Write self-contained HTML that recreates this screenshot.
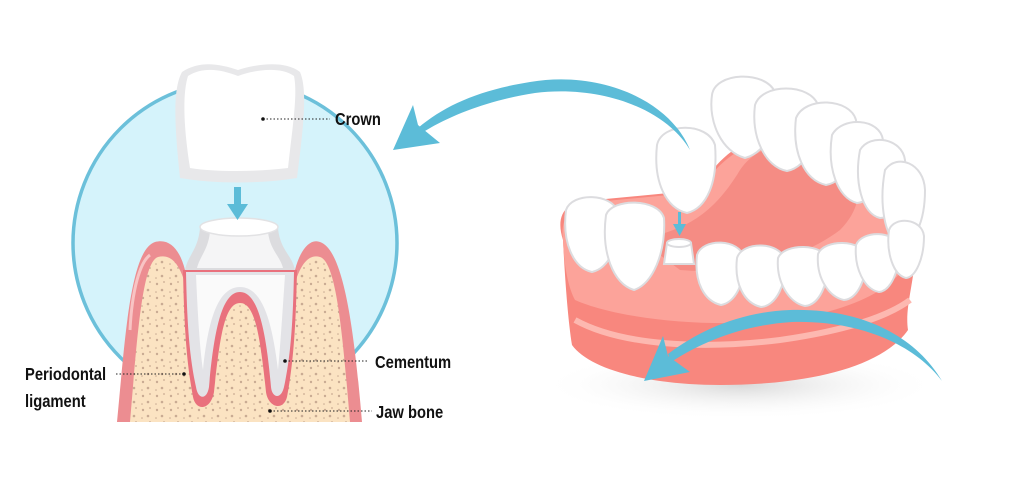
<!DOCTYPE html>
<html><head><meta charset="utf-8"><style>
html,body{margin:0;padding:0;background:#fff;}
svg{display:block}
text{font-family:"Liberation Sans",sans-serif;font-weight:bold;fill:#111;}
</style></head><body>
<svg width="1024" height="477" viewBox="0 0 1024 477" xmlns="http://www.w3.org/2000/svg">
<defs>
<radialGradient id="sh" cx="0.5" cy="0.5" r="0.5"><stop offset="0" stop-color="#d8d8d8"/><stop offset="1" stop-color="#fff" stop-opacity="0"/></radialGradient>
<pattern id="dots" width="14" height="14" patternUnits="userSpaceOnUse">
<rect width="14" height="14" fill="#fbe3c2"/>
<circle cx="3" cy="4" r="1.2" fill="#c9ab93"/><circle cx="10" cy="2" r="0.9" fill="#c9ab93"/><circle cx="8" cy="10" r="1.3" fill="#c9ab93"/><circle cx="2" cy="12" r="0.8" fill="#c9ab93"/>
</pattern>
</defs>
<circle cx="235" cy="243" r="162" fill="#d5f3fb" stroke="#6cc0da" stroke-width="3.5"/>
<path d="M117,422 C125,340 130,250 155,242 C170,238 180,250 185,270 L295,270 C300,250 310,238 320,242 C345,250 355,340 362,422 Z" fill="#ec8d91"/>
<path d="M130,422 C137,340 142,262 158,257 C170,254 178,262 184,280 L296,280 C302,262 310,254 320,257 C337,262 343,340 350,422 Z" fill="url(#dots)"/>
<path d="M130,330 C132,290 140,262 150,255" stroke="#f8c4c4" stroke-width="3" fill="none"/>
<path d="M183,270 L297,270 C296,320 294,360 287,397 C283,412 268,407 266,392 C260,335 255,303 240,303 C225,303 220,335 214,392 C211,410 196,412 193,397 C186,360 184,320 183,270 Z" fill="#e9717d"/>
<path d="M186,272 L294,272 C293,320 291,355 284,387 C281,400 272,398 271,387 C266,330 258,292 240,292 C222,292 214,330 209,387 C207,400 198,400 196,387 C189,355 187,320 186,272 Z" fill="#e3e3e7"/>
<path d="M196,275 L285,275 C282,320 280,350 278,370 C272,320 262,287 240,287 C218,287 208,320 203,370 C200,350 198,320 196,275 Z" fill="#fafafa"/>
<path d="M200,228 L278,228 C280,250 292,255 295,270 L185,270 C188,255 198,250 200,228 Z" fill="#dcdcdf"/>
<path d="M210,232 L268,232 C270,250 280,256 283,268 L197,268 C200,256 208,250 210,232 Z" fill="#f5f5f6"/>
<ellipse cx="239" cy="227" rx="39" ry="9" fill="#fff" stroke="#e2e2e4" stroke-width="1.5"/>
<rect x="234" y="187" width="7" height="20" fill="#5cbcd8"/>
<path d="M227,204 L248,204 L237.5,220 Z" fill="#5cbcd8"/>
<path d="M182,72 C200,60 220,64 238,70 C256,64 285,60 300,72 C308,90 303,130 297,178 C260,184 215,184 180,178 C175,130 172,90 182,72 Z" fill="#e8e8ea"/>
<path d="M188,76 C204,66 222,70 238,76 C254,70 280,66 294,76 C298,95 292,130 288,168 C255,172 215,172 190,168 C184,130 182,95 188,76 Z" fill="#fff"/>
<g stroke="#222" stroke-width="1" stroke-dasharray="1.5,2" fill="none">
<line x1="263" y1="119" x2="330" y2="119"/>
<line x1="285" y1="361" x2="368" y2="361"/>
<line x1="116" y1="374" x2="184" y2="374"/>
<line x1="270" y1="411" x2="372" y2="411"/>
</g>
<g fill="#111"><circle cx="263" cy="119" r="1.8"/><circle cx="285" cy="361" r="1.8"/><circle cx="184" cy="374" r="1.8"/><circle cx="270" cy="411" r="1.8"/></g>
<text x="335" y="125" font-size="18" transform="translate(335,0) scale(0.82,1) translate(-335,0)">Crown</text>
<text x="375" y="368" font-size="18" transform="translate(375,0) scale(0.82,1) translate(-375,0)">Cementum</text>
<text x="25" y="380" font-size="18" transform="translate(25,0) scale(0.82,1) translate(-25,0)">Periodontal</text>
<text x="25" y="407" font-size="18" transform="translate(25,0) scale(0.82,1) translate(-25,0)">ligament</text>
<text x="376" y="418" font-size="18" transform="translate(376,0) scale(0.82,1) translate(-376,0)">Jaw bone</text>

<ellipse cx="740" cy="385" rx="200" ry="35" fill="url(#sh)"/>
<path d="M563,240 C555,215 565,200 595,200 L700,190 C720,150 760,120 850,130 C900,140 925,190 915,260 C912,290 905,310 908,330 C880,370 800,385 720,385 C650,385 590,370 572,345 C568,320 565,280 563,240 Z" fill="#f8877e"/>
<path d="M563,240 C560,218 570,205 595,202 L700,192 C720,155 760,125 850,133 C895,143 918,190 912,250 C905,280 870,305 800,318 C720,330 620,320 575,300 C567,285 564,262 563,240 Z" fill="#fca39a"/>
<path d="M640,240 C680,230 710,220 740,170 C760,140 800,140 830,150 C860,165 870,200 840,230 C800,260 740,275 680,270 Z" fill="#f58c84"/>
<path d="M575,320 C620,345 700,350 780,340 C850,330 890,315 910,300" stroke="#fdb8b0" stroke-width="6" fill="none"/>
<g fill="#fff" stroke="#dcdcdf" stroke-width="2">
<path d="M712,95 C715,72 765,70 775,92 C780,122 768,152 745,158 C722,152 708,122 712,95 Z"/>
<path d="M755,105 C762,83 810,83 818,105 C822,137 808,167 787,171 C765,167 751,137 755,105 Z"/>
<path d="M796,118 C805,96 850,98 856,120 C859,152 846,182 826,185 C804,180 792,152 796,118 Z"/>
<path d="M832,135 C842,116 880,118 883,140 C886,172 874,202 857,203 C837,198 827,167 832,135 Z"/>
<path d="M860,150 C870,133 902,138 905,160 C907,192 896,218 880,218 C862,214 854,182 860,150 Z"/>
<path d="M885,170 C897,153 924,163 925,190 C925,222 914,245 900,245 C884,240 879,202 885,170 Z"/>
</g>
<g fill="#fff" stroke="#dcdcdf" stroke-width="2">
<path d="M566,210 C572,192 612,193 618,212 C621,242 610,268 592,272 C573,268 562,242 566,210 Z"/>
<path d="M606,215 C612,198 658,198 664,218 C666,252 653,284 634,290 C613,284 601,252 606,215 Z"/>
<path d="M657,145 C662,122 708,122 715,145 C718,182 707,208 687,213 C666,208 653,182 657,145 Z"/>
<path d="M667,243 L691,243 L694,264 L664,264 Z"/>
<ellipse cx="679" cy="243" rx="12" ry="4"/>
</g>
<rect x="678" y="212" width="3" height="14" fill="#5cbcd8"/>
<path d="M673,224 L686,224 L679.5,236 Z" fill="#5cbcd8"/>
<g fill="#fff" stroke="#dcdcdf" stroke-width="2">
<path d="M697,255 C702,238 740,238 744,258 C746,282 735,303 721,305 C704,301 694,282 697,255 Z"/>
<path d="M737,258 C742,241 780,241 785,260 C787,284 776,306 761,307 C744,303 734,284 737,258 Z"/>
<path d="M778,258 C784,243 824,243 828,260 C829,284 819,305 805,306 C789,303 776,282 778,258 Z"/>
<path d="M818,254 C824,239 862,239 866,256 C867,280 857,299 844,300 C829,297 816,278 818,254 Z"/>
<path d="M856,245 C862,230 896,230 899,248 C900,272 890,291 879,292 C864,289 854,268 856,245 Z"/>
<path d="M889,230 C894,216 922,218 924,236 C924,258 916,277 906,278 C893,275 886,252 889,230 Z"/>
</g>
<path d="M690,150 C670,100 600,70 530,82 C480,90 445,105 418,128 L420,134 C450,115 490,100 535,93 C600,85 665,108 690,150 Z" fill="#5cbcd8"/>
<path d="M393,150 L413,105 L418,125 L440,143 Z" fill="#5cbcd8"/>
<path d="M942,381 C915,335 860,308 790,310 C740,312 700,330 668,354 L671,362 C705,340 745,325 792,322 C860,320 915,345 942,381 Z" fill="#5cbcd8"/>
<path d="M644,381 L663,336 L668,356 L690,372 Z" fill="#5cbcd8"/>
</svg>
</body></html>
